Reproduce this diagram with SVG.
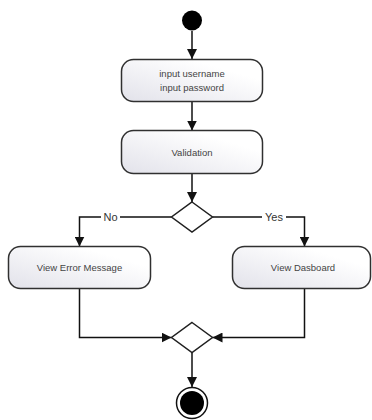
<svg xmlns="http://www.w3.org/2000/svg" width="372" height="420" viewBox="0 0 372 420">
<style>
.box{stroke:#303030;stroke-width:1.5;fill:url(#g)}
.dia{stroke:#202020;stroke-width:1.5;fill:#fff}
.t{font-family:"Liberation Sans",Arial,sans-serif;font-size:9.5px;fill:#444;text-anchor:middle}
.lbl{font-family:"Liberation Sans",Arial,sans-serif;font-size:11px;fill:#333;text-anchor:middle}
.c{stroke:#111;stroke-width:1.5;fill:none}
</style>
<defs>
<linearGradient id="g" x1="0" y1="1" x2="1" y2="0">
<stop offset="0" stop-color="#e2e2ea"/>
<stop offset="0.75" stop-color="#ffffff"/>
</linearGradient>
<marker id="a" viewBox="0 0 10 10" refX="10" refY="5" markerWidth="10" markerHeight="10" markerUnits="userSpaceOnUse" orient="auto">
<path d="M0,0 L10,5 L0,10 z" fill="#111"/>
</marker>
</defs>
<g id="connectors">
<path class="c" d="M192,31 V59" marker-end="url(#a)"/>
<path class="c" d="M192,102 V130.5" marker-end="url(#a)"/>
<path class="c" d="M192,174 V202" marker-end="url(#a)"/>
<path class="c" d="M171.5,217 H79.5 V246.5" marker-end="url(#a)"/>
<path class="c" d="M212.5,217 H304.5 V246.5" marker-end="url(#a)"/>
<path class="c" d="M79.5,288.5 V337.5 H171.5" marker-end="url(#a)"/>
<path class="c" d="M304.5,288.5 V337.5 H212.5" marker-end="url(#a)"/>
<path class="c" d="M192,352.5 V387" marker-end="url(#a)"/>
<rect x="101" y="210" width="19" height="14" fill="#fff"/>
<text class="lbl" x="110.5" y="221">No</text>
<rect x="262" y="210" width="24" height="14" fill="#fff"/>
<text class="lbl" x="274" y="221">Yes</text>
</g>
<g id="start"><circle cx="192" cy="20.5" r="10" fill="#000"/></g>
<g id="input">
<rect class="box" x="121.5" y="59.5" width="141" height="42" rx="12"/>
<text class="t" x="192" y="76.5">input username</text>
<text class="t" x="192" y="90.5">input password</text>
</g>
<g id="validation">
<rect class="box" x="121.5" y="130.5" width="141" height="43" rx="12"/>
<text class="t" x="192" y="155.5">Validation</text>
</g>
<g id="decision"><path class="dia" d="M192,202 L212.5,217 L192,232 L171.5,217 Z"/></g>
<g id="error">
<rect class="box" x="8.5" y="246.5" width="142" height="42" rx="12"/>
<text class="t" x="79.5" y="271">View Error Message</text>
</g>
<g id="dashboard">
<rect class="box" x="232.5" y="246.5" width="138" height="42" rx="12"/>
<text class="t" x="303" y="271">View Dasboard</text>
</g>
<g id="merge"><path class="dia" d="M192,322.5 L212.5,337.5 L192,352.5 L171.5,337.5 Z"/></g>
<g id="end">
<circle cx="192" cy="403" r="15.5" fill="#fff" stroke="#111" stroke-width="1.5"/>
<circle cx="192" cy="403" r="12" fill="#000"/>
</g>
</svg>
